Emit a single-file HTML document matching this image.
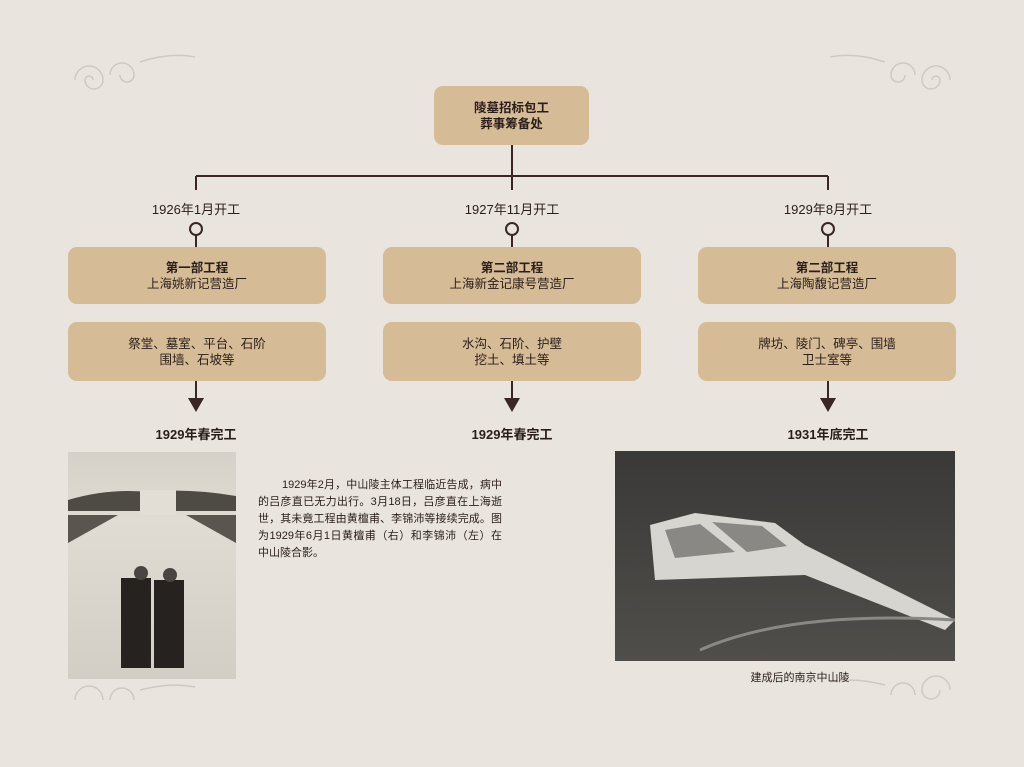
<!DOCTYPE html>
<html><head><meta charset="utf-8"><style>
body{margin:0;width:1024px;height:767px;background:#e9e5de;position:relative;overflow:hidden;font-family:"Liberation Sans","Noto Sans CJK SC",sans-serif;color:#2a1d1a}
.b{position:absolute;background:#d5bb96;border-radius:9px;text-align:center;font-size:12.5px;line-height:16px;display:flex;flex-direction:column;justify-content:center}
.t{position:absolute;font-size:13px;text-align:center;width:200px}
.bold{font-weight:bold}
.f{position:absolute;font-size:13px;font-weight:bold;text-align:center;width:200px}
.p{position:absolute;left:258px;font-size:11px;white-space:nowrap;width:244px;text-align:justify;text-align-last:justify}
</style></head><body>
<svg width="1024" height="767" style="position:absolute;left:0;top:0">
<g stroke="#3a2622" stroke-width="2" fill="none">
<line x1="512" y1="145" x2="512" y2="176"/>
<line x1="196" y1="176" x2="828" y2="176"/>
<line x1="196" y1="176" x2="196" y2="190"/><line x1="512" y1="176" x2="512" y2="190"/><line x1="828" y1="176" x2="828" y2="190"/>
<circle cx="196" cy="229" r="6" fill="#e9e5de"/><circle cx="512" cy="229" r="6" fill="#e9e5de"/><circle cx="828" cy="229" r="6" fill="#e9e5de"/>
<line x1="196" y1="235" x2="196" y2="247"/><line x1="512" y1="235" x2="512" y2="247"/><line x1="828" y1="235" x2="828" y2="247"/>
<line x1="196" y1="381" x2="196" y2="400"/><line x1="512" y1="381" x2="512" y2="400"/><line x1="828" y1="381" x2="828" y2="400"/>
</g>
<g fill="#3a2622"><polygon points="188,398 204,398 196,412"/><polygon points="504,398 520,398 512,412"/><polygon points="820,398 836,398 828,412"/></g>
<g stroke="#cfc9c0" stroke-width="1.5" fill="none">
<path d="M75 80 a14 14 0 1 1 28 0 a9 9 0 1 1 -18 0 a4 4 0 1 1 8 0 M110 75 a12 12 0 1 1 24 0 a7 7 0 1 1 -14 0 M140 62 q30 -10 55 -5"/>
<path d="M950 80 a14 14 0 1 0 -28 0 a9 9 0 1 0 18 0 a4 4 0 1 0 -8 0 M915 75 a12 12 0 1 0 -24 0 a7 7 0 1 0 14 0 M885 62 q-30 -10 -55 -5"/>
<path d="M75 700 a14 14 0 1 1 28 0 M110 700 a12 12 0 1 1 24 0 M140 690 q30 -8 55 -3"/>
<path d="M950 690 a14 14 0 1 0 -28 0 a9 9 0 1 0 18 0 M915 695 a12 12 0 1 0 -24 0 M885 685 q-30 -8 -55 -3"/>
</g>
<defs><linearGradient id="g1" x1="0" y1="0" x2="0" y2="1"><stop offset="0" stop-color="#d6d1c8"/><stop offset="0.3" stop-color="#e0dcd3"/><stop offset="1" stop-color="#d3cec5"/></linearGradient>
<linearGradient id="g2" x1="0" y1="0" x2="0" y2="1"><stop offset="0" stop-color="#3a3937"/><stop offset="1" stop-color="#504e4b"/></linearGradient></defs>
<rect x="68" y="452" width="168" height="227" fill="url(#g1)"/>
<path d="M68 500 q40 -12 80 -8 q40 -4 88 4 v15 h-168z" fill="#4e4a44"/>
<rect x="140" y="490" width="36" height="25" fill="#e2ded6"/>
<path d="M68 515 h50 l-50 28z M236 515 h-50 l50 28z" fill="#5a554e"/>
<rect x="121" y="578" width="30" height="90" fill="#25221f"/><rect x="154" y="580" width="30" height="88" fill="#25221f"/>
<circle cx="141" cy="573" r="7" fill="#4a4540"/><circle cx="170" cy="575" r="7" fill="#4a4540"/>
<rect x="615" y="451" width="340" height="210" fill="url(#g2)"/>
<path d="M650 525 l45 -12 l80 10 l30 22 l150 75 l-10 10 l-140 -55 l-150 5 z" fill="#d7d5d0"/>
<path d="M665 530 l35 -6 l35 28 l-60 6z M712 522 l50 4 l25 20 l-40 6z" fill="#8a8884"/>
<path d="M700 650 q90 -40 255 -30" stroke="#8a8884" stroke-width="3" fill="none"/>
</svg>
<div class="b bold" style="left:434px;top:86px;width:155px;height:59px">陵墓招标包工<br>葬事筹备处</div>
<div class="t" style="left:96px;top:199px">1926年1月开工</div>
<div class="t" style="left:412px;top:199px">1927年11月开工</div>
<div class="t" style="left:728px;top:199px">1929年8月开工</div>
<div class="b" style="left:68px;top:247px;width:258px;height:57px"><b>第一部工程</b>上海姚新记营造厂</div>
<div class="b" style="left:383px;top:247px;width:258px;height:57px"><b>第二部工程</b>上海新金记康号营造厂</div>
<div class="b" style="left:698px;top:247px;width:258px;height:57px"><b>第二部工程</b>上海陶馥记营造厂</div>
<div class="b" style="left:68px;top:322px;width:258px;height:59px">祭堂、墓室、平台、石阶<br>围墙、石坡等</div>
<div class="b" style="left:383px;top:322px;width:258px;height:59px">水沟、石阶、护壁<br>挖土、填土等</div>
<div class="b" style="left:698px;top:322px;width:258px;height:59px">牌坊、陵门、碑亭、围墙<br>卫士室等</div>
<div class="f" style="left:96px;top:424px">1929年春完工</div>
<div class="f" style="left:412px;top:424px">1929年春完工</div>
<div class="f" style="left:728px;top:424px">1931年底完工</div>
<div class="p" style="top:476px;left:282px;width:220px">1929年2月，中山陵主体工程临近告成，病中</div>
<div class="p" style="top:493px">的吕彦直已无力出行。3月18日，吕彦直在上海逝</div>
<div class="p" style="top:510px">世，其未竟工程由黄檀甫、李锦沛等接续完成。图</div>
<div class="p" style="top:527px">为1929年6月1日黄檀甫（右）和李锦沛（左）在</div>
<div class="p" style="top:544px;text-align-last:left">中山陵合影。</div>
<div class="t" style="left:700px;top:669px;font-size:11px">建成后的南京中山陵</div>
</body></html>
